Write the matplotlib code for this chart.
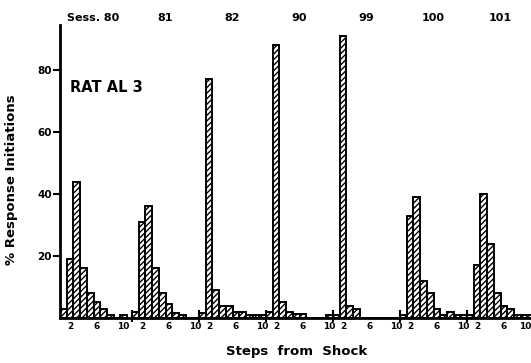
import matplotlib
matplotlib.use("Agg")
import matplotlib.pyplot as plt
import matplotlib.transforms as mtransforms
import numpy as np

# ---- data ----
sessions = ["Sess. 80", "81", "82", "90", "99", "100", "101"]
steps = [1, 2, 3, 4, 5, 6, 7, 8, 9, 10]
sess80 = [3, 19, 44, 16, 8, 5, 3, 1, 0, 1]
sess81 = [2, 31, 36, 16, 8, 4.5, 1.5, 1, 0, 0]
sess82 = [1.5, 77, 9, 4, 4, 2, 2, 1, 1, 1]
sess90 = [2, 88, 5, 2, 1.3, 1.3, 0, 0, 0, 1]
sess99 = [1, 91, 4, 3, 0, 0, 0, 0, 0, 0]
sess100 = [1, 33, 39, 12, 8, 3, 1, 2, 1, 1]
sess101 = [1, 17, 40, 24, 8, 4, 3, 1, 1, 1]
tick_steps = [2, 6, 10]
yticks = [20, 40, 60, 80]
all_sessions = [sess80, sess81, sess82, sess90, sess99, sess100, sess101]

plt.rcParams['hatch.linewidth'] = 1.0
plt.rcParams['font.family'] = ['DejaVu Sans']

W, H = 531, 363
fig = plt.figure(figsize=(W / 100, H / 100), dpi=100)
ax_left, ax_bottom, ax_top = 60, 318, 25
ax = fig.add_axes([ax_left / W, (H - ax_bottom) / H, 1 - ax_left / W, (ax_bottom - ax_top) / H])

first_gap = 0.75
offsets = [0.0] + [len(steps) + first_gap + g * len(steps) for g in range(len(sessions) - 1)]

xt, xtl = [], []
for off, vals, name in zip(offsets, all_sessions, sessions):
    xs = [off + s - 0.5 for s in steps]
    ax.bar(xs, vals, width=1.0, color="white", edgecolor="black",
           linewidth=1.4, hatch="//////", zorder=2)
    for t in tick_steps:
        xt.append(off + t - 0.5)
        xtl.append(str(t))
    ax.text(off + len(steps) / 2, 96.8, name, ha="center", va="center",
            fontsize=8, fontweight="bold", clip_on=False)
    if off > 0:
        ax.plot([off, off], [-1.4, 2.6], color="black", lw=1.5,
                clip_on=False, zorder=3, solid_capstyle="butt")

ax.set_xlim(0, (W - ax_left) / 6.7)
ax.set_ylim(0, 94.5)

ax.set_xticks(xt)
ax.set_xticklabels(xtl, fontsize=6.5, fontweight="bold")
ax.tick_params(axis="x", length=0, pad=3)
# keep the last label inside the figure
last = ax.get_xticklabels()[-1]
last.set_transform(last.get_transform() + mtransforms.ScaledTranslation(-5 / 100, 0, fig.dpi_scale_trans))

ax.set_yticks(yticks)
ax.set_yticklabels([str(v) for v in yticks], fontsize=7.5, fontweight="bold")
ax.tick_params(axis="y", length=5, width=1.5, pad=1, direction="out")

for s in ["top", "right"]:
    ax.spines[s].set_visible(False)
ax.spines["left"].set_linewidth(2)
ax.spines["bottom"].set_linewidth(2)

ax.text(1.5, 74.4, "RAT AL 3", ha="left", va="center", fontsize=10.5, fontweight="bold")

fig.text(12 / W, 1 - 180 / H, "% Response Initiations", rotation=90, ha="center",
         va="center", fontsize=9.5, fontweight="bold")
fig.text(297 / W, 1 - 351 / H, "Steps  from  Shock", ha="center", va="center",
         fontsize=9.5, fontweight="bold")

fig.savefig("out.png", dpi=100)
